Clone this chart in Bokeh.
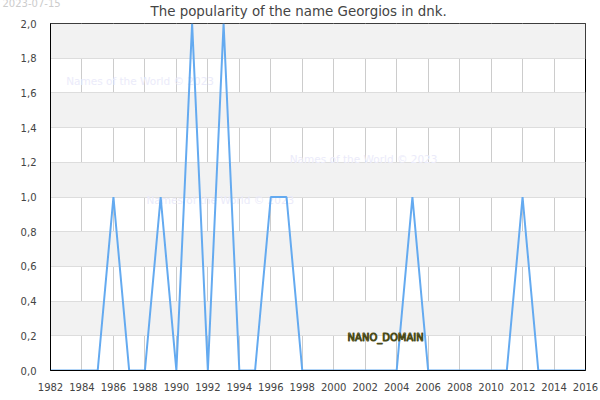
from bokeh.plotting import figure
from bokeh.embed import file_html
from bokeh.resources import INLINE
from bokeh.models import Range1d, SingleIntervalTicker, CustomJSTickFormatter, Title
from bokeh.core.properties import value

years = list(range(1982, 2017))
counts = [0, 0, 0, 0, 1, 0, 0, 1, 0, 2, 0, 2, 0, 0, 1, 1, 0, 0, 0, 0, 0, 0, 0, 1, 0, 0, 0, 0, 0, 0, 1, 0, 0, 0, 0]
title_text = "The popularity of the name Georgios in dnk."
date_text = "2023-07-15"
wm_text = "Names of the World © 2023"
wm_x = [1983.0, 1997.2, 1988.1]
wm_y = [1.67, 1.22, 0.98]
brand_text = "NANO_DOMAIN"
brand_x = [2003.3]
brand_y = [0.19]

FONT = "DejaVu Sans"

p = figure(width=600, height=400, output_backend="svg", toolbar_location=None,
           x_range=Range1d(1982, 2016), y_range=Range1d(0, 2.0),
           min_border_left=50, min_border_right=15, min_border_top=23, min_border_bottom=30)
p.background_fill_color = "white"
p.border_fill_color = "white"
p.outline_line_color = "black"
p.outline_line_width = 1

# outermost panel: date
p.title.text = date_text
p.title.align = "left"
p.title.offset = -48
p.title.vertical_align = "middle"
p.title.standoff = -13.6
p.title.text_font = FONT
p.title.text_font_size = "10px"
p.title.text_font_style = "normal"
p.title.text_color = "#cccccc"

main_title = Title(text=title_text, align="left", offset=100, vertical_align="top", standoff=3.5,
                   text_font=FONT, text_font_size="13.4px", text_font_style="normal",
                   text_color="#444444")
p.add_layout(main_title, "above")

for ax, interval in ((p.xaxis[0], 2), (p.yaxis[0], 0.2)):
    ax.ticker = SingleIntervalTicker(interval=interval)
    ax.axis_line_color = "black"
    ax.major_tick_line_color = None
    ax.minor_tick_line_color = None
    ax.major_label_text_font = FONT
    ax.major_label_text_font_size = "10px"
    ax.major_label_text_color = "#444444"
p.xaxis.major_label_standoff = 6
p.yaxis.major_label_standoff = 8
p.yaxis.formatter = CustomJSTickFormatter(code="return tick.toFixed(1).replace('.', ',');")

p.xgrid.ticker = SingleIntervalTicker(interval=2)
p.ygrid.ticker = SingleIntervalTicker(interval=0.2)
p.xgrid.grid_line_color = "#cccccc"
p.ygrid.grid_line_color = "#dddddd"
p.ygrid.band_fill_color = "#f2f2f2"
p.ygrid.band_fill_alpha = 1.0

p.text(x=wm_x, y=wm_y, text=[wm_text] * 3, text_font=value(FONT), text_font_size="10.5px",
       text_color="#ebebfa", text_baseline="middle", text_align="left")

p.line(years, counts, line_color="#64aaf0", line_width=2)

p.text(x=brand_x, y=brand_y, text=[brand_text], text_font=value(FONT), text_font_size="10px",
       text_color="#eaea9c", text_outline_color="#4a4a18", text_baseline="middle", text_align="center")

open("out.html", "w").write(file_html(p, INLINE))
